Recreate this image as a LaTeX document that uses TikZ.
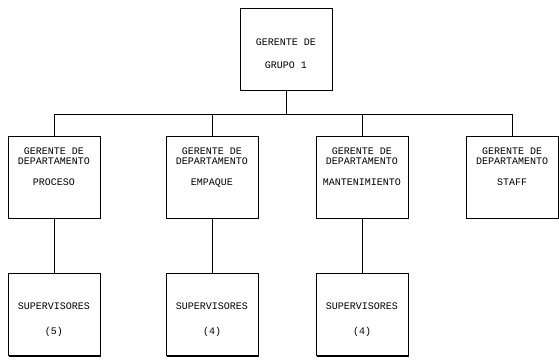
\documentclass[tikz,border=0pt]{standalone}
\usepackage{fontspec}
\setmonofont{Liberation Mono}
\usepackage{tikz}
\usetikzlibrary{positioning, shadows}

\newcommand{\boxtxt}[2]{\parbox[c][82pt][t]{92pt}{\centering\vspace*{#1}#2}}

\begin{document}
\begin{tikzpicture}[
        x=1pt, y=-1pt,
        font=\ttfamily\fontsize{10}{10}\selectfont,
        org/.style={draw, line width=0.7pt, fill=white, inner sep=0pt, drop shadow={shadow xshift=1.2pt, shadow yshift=-1.2pt, opacity=1, fill=black}},
        link/.style={draw, line width=0.6pt}
    ]
        \useasboundingbox (0,0) rectangle (559,360);

        % Gerente de grupo
        \node[org] (grupo) at (286,49) {\boxtxt{30.5pt}{GERENTE DE\\[13pt]GRUPO 1}};

        % Gerentes de departamento
        \node[org] (proc) at (54,177) {\boxtxt{12pt}{GERENTE DE\\DEPARTAMENTO\\[11pt]PROCESO}};
        \node[org] (empaque) at (212,177) {\boxtxt{12pt}{GERENTE DE\\DEPARTAMENTO\\[11pt]EMPAQUE}};
        \node[org] (mant) at (362,177) {\boxtxt{12pt}{GERENTE DE\\DEPARTAMENTO\\[11pt]MANTENIMIENTO}};
        \node[org] (staff) at (512,177) {\boxtxt{12pt}{GERENTE DE\\DEPARTAMENTO\\[11pt]STAFF}};

        % Supervisores
        \node[org, below=55pt of proc] (supproc) {\boxtxt{29pt}{SUPERVISORES\\[15pt](5)}};
        \node[org, below=55pt of empaque] (supemp) {\boxtxt{29pt}{SUPERVISORES\\[15pt](4)}};
        \node[org, below=55pt of mant] (supmant) {\boxtxt{29pt}{SUPERVISORES\\[15pt](4)}};

        % Lineas
        \coordinate (bus) at (0,114);
        \draw[link] (grupo.south) -- (grupo.south |- bus);
        \draw[link] (proc.north) -- (proc.north |- bus) -- (staff.north |- bus) -- (staff.north);
        \draw[link] (empaque.north) -- (empaque.north |- bus);
        \draw[link] (mant.north) -- (mant.north |- bus);
        \draw[link] (proc.south) -- (supproc.north);
        \draw[link] (empaque.south) -- (supemp.north);
        \draw[link] (mant.south) -- (supmant.north);
    \end{tikzpicture}
\end{document}
